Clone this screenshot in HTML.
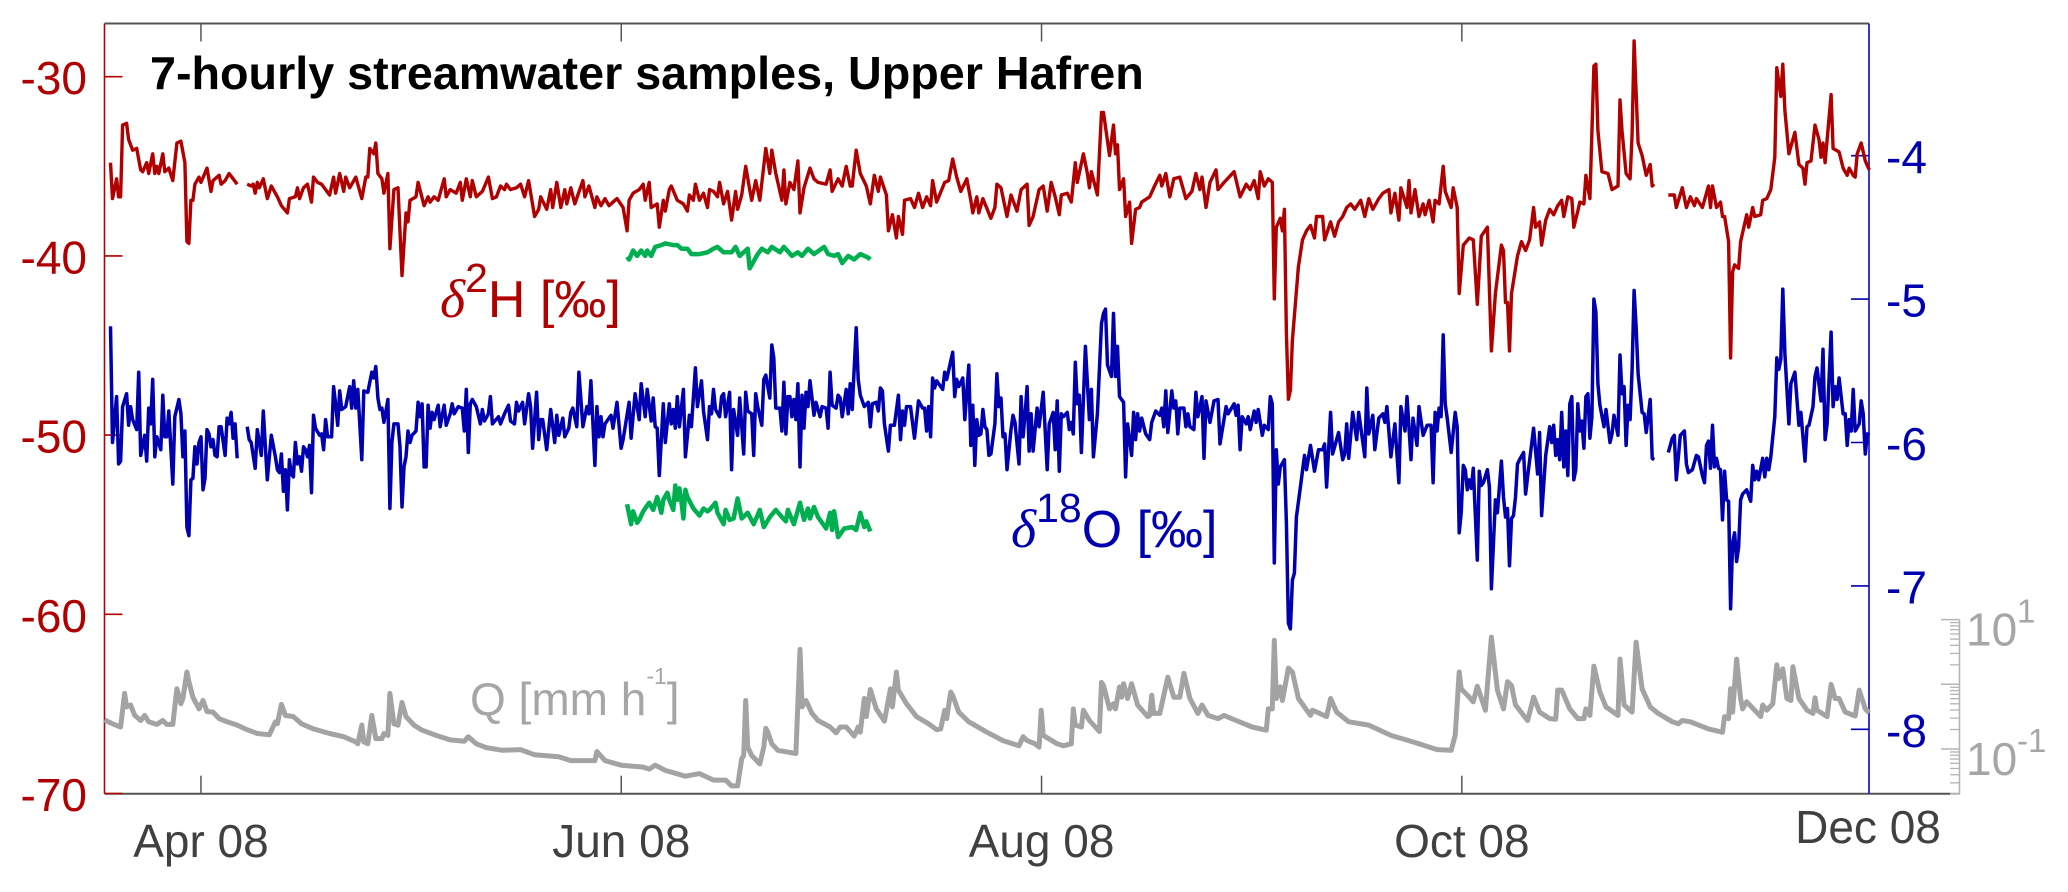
<!DOCTYPE html>
<html lang="en">
<head>
<meta charset="utf-8">
<title>7-hourly streamwater samples, Upper Hafren</title>
<style>
html,body{margin:0;padding:0;background:#fff;}
svg{display:block;font-family:"Liberation Sans",Arial,sans-serif;}
</style>
</head>
<body>
<svg id="chart" xmlns="http://www.w3.org/2000/svg" width="2068" height="892" viewBox="0 0 2068 892">
  <rect x="0" y="0" width="2068" height="892" fill="#ffffff"/>
  <g id="axes"></g>
  <g id="marks"></g>
  <text x="150" y="89" font-size="46.7" font-weight="bold" fill="#000">7-hourly streamwater samples, Upper Hafren</text>
  <text x="440" y="317" font-size="52" fill="#b00000"><tspan font-family="'Liberation Serif',serif" font-style="italic" font-size="54">δ</tspan><tspan font-size="41" dy="-25">2</tspan><tspan dy="25">H [‰]</tspan></text>
  <text x="1011" y="547" font-size="52" fill="#0000b0"><tspan font-family="'Liberation Serif',serif" font-style="italic" font-size="54">δ</tspan><tspan font-size="41" dy="-25">18</tspan><tspan dy="25">O [‰]</tspan></text>
  <text x="470" y="715" font-size="46" fill="#a6a6a6">Q [mm h<tspan font-size="23" dy="-31">-1</tspan><tspan dy="31">]</tspan></text>
</svg>
<script>
// Sample index = number of 7-hourly samples since the start of the plotted window.
const d2hSpring = [[3,-34.8],[4,-36.8],[6,-35.7],[7,-36.7],[8,-36.7],[9,-32.7],[11,-32.6],[12,-33.5],[14,-34.1],[16,-34],[18,-35.2],[19,-35.3],[21,-34.8],[22,-35.4],[24,-34.3],[25,-35.4],[26,-35],[27,-35.4],[29,-34.3],[30,-35.3],[32,-35.1],[34,-35.8],[36,-33.7],[38,-33.6],[40,-34.8],[41,-39.2],[42,-39.3],[43,-36.9],[44,-36.9],[45,-36],[47,-35.6],[48,-35.9],[51,-35.1],[53,-36.4],[54,-35.8],[57,-35.5],[58,-36],[60,-35.8],[62,-35.4],[64,-35.7],[66,-36]];
const d2hMain = [[71,-36],[73,-36.1],[74,-36],[75,-36.5],[76,-35.9],[77,-36.2],[79,-35.7],[81,-36.8],[83,-36.1],[86,-36.7],[88,-37.2],[91,-37.6],[92,-36.8],[95,-36.7],[96,-36.2],[97,-36.8],[99,-36.2],[101,-36],[103,-37],[104,-35.6],[106,-35.9],[108,-36],[110,-36.3],[112,-36.6],[114,-35.6],[115,-36.5],[117,-35.4],[119,-36.4],[120,-35.6],[122,-36.2],[125,-35.6],[128,-36.8],[130,-35.6],[131,-35.6],[132,-34],[134,-34.3],[135,-33.7],[136,-35.4],[138,-35.7],[139,-36.5],[141,-35.4],[142,-39.6],[144,-36.3],[146,-36.2],[148,-41.1],[150,-37.6],[151,-38.1],[152,-36.9],[155,-36.7],[156,-35.9],[159,-37.2],[161,-36.7],[162,-37],[164,-36.7],[166,-36.9],[169,-35.7],[170,-36.7],[172,-36.3],[175,-36.5],[177,-35.9],[178,-36.9],[180,-35.7],[182,-36.7],[183,-35.8],[185,-36.7],[188,-36.4],[191,-35.6],[193,-36.8],[195,-36.7],[197,-36.1],[199,-36.3],[200,-36],[202,-36.3],[205,-36.2],[207,-36],[209,-36.7],[211,-35.8],[214,-37.8],[216,-37.4],[217,-36.7],[220,-37.4],[222,-36.3],[223,-37.3],[225,-35.9],[227,-37.3],[229,-36.3],[230,-37.1],[232,-36.2],[234,-37.1],[238,-35.8],[239,-36.7],[241,-36.1],[244,-37.3],[245,-36.7],[247,-37.2],[249,-36.8],[251,-37.2],[254,-36.9],[255,-36.8],[258,-37.3],[260,-38.6],[261,-36.9],[263,-36.5],[266,-36.3],[268,-36],[269,-36.9],[271,-35.9],[272,-37.3],[275,-37.1],[276,-38.4],[278,-36.9],[279,-37.5],[281,-36.3],[282,-36.1],[285,-36.9],[288,-37.1],[290,-37.5],[291,-36.6],[293,-36.9],[294,-36],[296,-36.9],[298,-36.5],[300,-37.3],[301,-36.3],[303,-36.4],[305,-36.7],[306,-35.9],[308,-37.1],[310,-36.4],[312,-38],[314,-36.4],[315,-37.4],[317,-36.6],[319,-35],[321,-36.3],[322,-36.9],[324,-35.8],[326,-36.9],[329,-34],[331,-35.4],[332,-34.1],[334,-35.4],[337,-36.9],[338,-35.2],[339,-37.1],[341,-35.9],[343,-36.3],[345,-34.7],[346,-37.6],[348,-36.2],[351,-35.1],[353,-35.7],[355,-35.9],[359,-36],[361,-35.2],[362,-36.4],[365,-35.7],[367,-36.1],[369,-35],[371,-36.1],[372,-36.1],[374,-34.1],[376,-35.4],[379,-36.1],[381,-37.1],[383,-35.5],[385,-36.4],[386,-35.6],[389,-36.6],[390,-38.6],[392,-37.7],[394,-39],[395,-37.8],[397,-38.8],[398,-36.9],[401,-36.8],[403,-37.3],[405,-36.5],[407,-37.3],[409,-36.7],[411,-37.2],[412,-35.8],[414,-37],[418,-35.9],[420,-35.8],[422,-34.6],[424,-35.6],[426,-36.4],[429,-35.7],[431,-36.9],[432,-37.6],[434,-36.7],[435,-37.6],[437,-36.8],[441,-37.9],[443,-37.3],[444,-36],[446,-36.2],[449,-37.8],[451,-36.6],[454,-37.5],[456,-36.3],[459,-36],[460,-38.3],[462,-37.8],[465,-36.3],[467,-36.1],[469,-37.5],[471,-35.9],[473,-36.7],[475,-37.7],[476,-36.6],[479,-36.5],[481,-37],[483,-34.8],[484,-35.9],[487,-34.3],[489,-35.4],[490,-36.2],[491,-35.3],[494,-36.6],[496,-32],[497,-32],[500,-34.4],[502,-32.7],[503,-34.3],[504,-33.8],[505,-36.3],[507,-35.7],[508,-37.8],[510,-37],[511,-39.3],[513,-37.4],[515,-37.3],[516,-37],[520,-36.7],[522,-36.2],[525,-35.5],[526,-36.1],[528,-35.4],[530,-36.7],[532,-35.7],[535,-35.6],[538,-36.8],[541,-36.4],[543,-35.4],[545,-36.3],[546,-35.6],[548,-37.3],[550,-35.9],[553,-35.2],[554,-36.3],[557,-35.9],[562,-35.3],[565,-36.7],[568,-36],[570,-36.3],[572,-35.8],[574,-36.8],[575,-35.3],[577,-36.1],[579,-35.7],[581,-35.9],[582,-42.4],[583,-38.4],[585,-37.9],[586,-38.6],[587,-37.4],[588,-44.3],[589,-48],[590,-47.5],[591,-44.7],[594,-40.6],[596,-39.1],[598,-38.6],[600,-38.3],[602,-39],[603,-37.8],[606,-37.8],[607,-39.1],[610,-38.1],[612,-38.9],[614,-38.1],[616,-37.8],[618,-37.3],[620,-37.1],[622,-37.4],[625,-36.9],[627,-37.8],[629,-36.8],[631,-37.4],[634,-36.8],[636,-36.5],[639,-36.3],[640,-37.6],[642,-36.5],[644,-38],[645,-36.2],[648,-37.3],[649,-35.8],[650,-37.6],[652,-36.3],[654,-37.8],[656,-37.1],[657,-37.7],[659,-36.9],[661,-38.1],[662,-36.9],[664,-37.1],[666,-35],[667,-36.4],[670,-37.3],[671,-36.2],[673,-37.3],[674,-42.1],[676,-39.4],[679,-39],[681,-39.1],[683,-42.7],[685,-38.9],[688,-38.4],[690,-45.3],[692,-42.1],[695,-39.4],[696,-39.7],[697,-42.6],[698,-42.6],[699,-45.3],[700,-42.1],[703,-40],[705,-39.2],[707,-39.7],[709,-39.1],[711,-37.3],[712,-38.4],[714,-38.1],[715,-39.4],[717,-38],[719,-37.4],[721,-37.7],[723,-37.2],[725,-36.9],[726,-37.8],[728,-36.7],[730,-36.8],[731,-38.4],[733,-37.5],[734,-37],[736,-37.1],[737,-35.5],[739,-36.8],[741,-29.4],[742,-29.3],[743,-33],[745,-35.3],[748,-35.4],[750,-36.3],[753,-36.1],[754,-31.3],[755,-33],[757,-35.4],[759,-35.7],[760,-33.2],[761,-28],[763,-33.7],[765,-34.4],[767,-35.5],[769,-34.9],[770,-36.1],[771,-36]];
const d2hLate = [[778,-36.6],[781,-36.6],[782,-37.3],[785,-36.2],[787,-37.3],[789,-36.7],[791,-37.2],[792,-36.8],[795,-37.3],[798,-36.1],[799,-37.3],[800,-36.1],[802,-37.3],[804,-37],[805,-37.8],[806,-37.8],[808,-39.2],[809,-45.7],[810,-40.9],[811,-40.5],[813,-40.7],[814,-39.2],[817,-37.7],[818,-38.4],[820,-37.3],[821,-37.8],[824,-37.7],[825,-36.9],[827,-36.8],[829,-36.3],[831,-34.5],[832,-29.5],[834,-31.1],[835,-29.3],[836,-31.9],[838,-34.3],[841,-33.1],[843,-34.9],[845,-35.1],[846,-36],[847,-34.8],[849,-34.7],[851,-32.7],[853,-33.5],[854,-34.5],[855,-33.7],[856,-34.8],[859,-31],[860,-34],[863,-34.2],[865,-35.1],[867,-35.5],[868,-35.1],[870,-35.5],[871,-35.6],[872,-34.3],[874,-33.7],[876,-34.7],[878,-35.2]];

const d18oSpring = [[3,-5.19],[4,-6],[6,-5.68],[7,-6.15],[8,-6.13],[9,-5.75],[11,-5.66],[12,-5.88],[13,-5.75],[14,-5.84],[16,-5.91],[17,-5.51],[18,-6.09],[20,-5.95],[21,-6.13],[22,-5.76],[23,-5.87],[24,-5.56],[25,-6.1],[26,-5.96],[28,-6.05],[29,-5.67],[30,-5.96],[31,-5.96],[32,-5.78],[34,-6.29],[35,-5.82],[37,-5.7],[38,-5.8],[39,-6.1],[40,-5.92],[41,-6.59],[42,-6.65],[43,-6.26],[44,-6.25],[45,-6.03],[46,-6.15],[47,-6],[48,-5.96],[49,-6.33],[50,-6.25],[51,-5.91],[52,-5.94],[53,-6.03],[54,-5.98],[55,-6.09],[56,-6.1],[57,-5.89],[58,-5.89],[60,-6.09],[61,-5.83],[62,-5.87],[63,-5.79],[64,-5.97],[65,-5.87],[66,-6.11]];
const d18oMain = [[71,-5.89],[72,-5.98],[73,-6],[75,-6.18],[76,-5.91],[78,-6.09],[79,-5.78],[81,-6.26],[83,-5.95],[85,-6.1],[86,-6.19],[87,-6.21],[88,-6.08],[89,-6.34],[90,-6.19],[91,-6.47],[92,-6.12],[93,-6.22],[94,-6.24],[95,-6],[96,-6.15],[97,-6.1],[98,-6.2],[99,-6.03],[100,-6.05],[101,-6.1],[102,-6.02],[103,-6.35],[104,-5.81],[105,-5.9],[107,-5.95],[108,-5.94],[109,-6.05],[110,-5.84],[111,-5.96],[113,-5.96],[114,-5.61],[115,-5.73],[116,-5.88],[117,-5.64],[118,-5.77],[120,-5.75],[122,-5.61],[123,-5.76],[124,-5.57],[125,-5.76],[126,-5.63],[128,-6.12],[129,-5.64],[131,-5.65],[133,-5.51],[134,-5.55],[135,-5.47],[136,-5.69],[137,-5.77],[138,-5.76],[139,-5.86],[140,-5.78],[141,-5.7],[142,-6.46],[143,-6],[144,-5.87],[146,-5.87],[147,-6.03],[148,-6.45],[149,-6.17],[150,-6.1],[151,-5.92],[152,-6],[153,-5.95],[155,-5.92],[156,-5.72],[157,-5.82],[158,-5.73],[159,-6.17],[160,-6.17],[161,-5.74],[162,-5.9],[163,-5.79],[164,-5.84],[166,-5.74],[167,-5.89],[168,-5.81],[169,-5.74],[170,-5.88],[172,-5.8],[173,-5.73],[174,-5.8],[176,-5.75],[178,-5.76],[179,-5.92],[180,-5.63],[181,-6.07],[182,-5.73],[183,-5.7],[185,-5.75],[187,-5.87],[188,-5.77],[189,-5.85],[191,-5.8],[192,-5.68],[193,-5.87],[196,-5.82],[197,-5.87],[199,-5.8],[201,-5.74],[202,-5.85],[204,-5.87],[205,-5.72],[206,-5.78],[208,-5.72],[209,-5.87],[211,-5.66],[212,-5.75],[213,-6.04],[215,-5.65],[216,-5.98],[217,-5.84],[218,-5.84],[220,-6.05],[222,-5.77],[224,-6],[225,-5.81],[226,-5.95],[228,-5.83],[229,-5.96],[231,-5.9],[232,-5.79],[233,-5.76],[235,-5.89],[236,-5.51],[238,-5.89],[240,-5.75],[241,-5.8],[242,-5.57],[244,-6.16],[245,-5.75],[246,-5.96],[247,-5.82],[248,-5.96],[249,-5.87],[252,-5.81],[253,-5.9],[255,-5.72],[257,-6.04],[258,-5.98],[261,-5.72],[262,-5.97],[264,-5.66],[266,-5.84],[267,-5.59],[269,-5.82],[270,-5.63],[272,-5.85],[273,-5.69],[274,-5.89],[275,-5.9],[276,-6.23],[278,-5.73],[279,-6],[281,-5.73],[282,-5.87],[283,-5.77],[284,-5.9],[285,-5.68],[286,-5.89],[288,-5.63],[289,-6.1],[291,-5.81],[292,-5.89],[294,-5.48],[295,-5.75],[297,-5.57],[298,-5.78],[300,-5.98],[301,-5.75],[302,-5.8],[303,-5.63],[304,-5.77],[306,-5.82],[307,-5.68],[308,-5.66],[309,-5.82],[311,-5.65],[312,-6.19],[313,-5.77],[315,-5.95],[316,-5.69],[318,-6.08],[319,-5.65],[320,-5.78],[322,-5.8],[323,-6.09],[324,-5.66],[325,-5.75],[327,-5.88],[328,-5.56],[329,-5.53],[331,-5.69],[332,-5.32],[333,-5.41],[334,-5.76],[336,-5.76],[337,-5.92],[338,-5.58],[339,-5.94],[340,-5.68],[341,-5.68],[342,-5.82],[343,-5.7],[344,-5.84],[345,-5.59],[346,-6.17],[347,-5.67],[348,-5.9],[349,-5.65],[350,-5.75],[351,-5.57],[353,-5.81],[354,-5.72],[356,-5.82],[357,-5.75],[359,-5.76],[360,-5.9],[361,-5.51],[362,-5.74],[364,-5.76],[365,-5.67],[366,-5.69],[367,-5.82],[369,-5.63],[370,-5.8],[371,-5.59],[372,-5.77],[374,-5.2],[375,-5.56],[376,-5.67],[378,-5.75],[380,-5.72],[381,-5.89],[382,-5.73],[384,-5.72],[385,-5.78],[386,-5.62],[387,-5.64],[388,-5.87],[390,-6.06],[391,-5.88],[393,-5.88],[395,-5.67],[396,-5.98],[397,-5.78],[398,-5.88],[399,-5.75],[401,-5.75],[403,-5.97],[405,-5.71],[407,-5.76],[408,-5.76],[409,-5.92],[410,-5.75],[411,-5.96],[412,-5.55],[413,-5.62],[414,-5.57],[417,-5.63],[418,-5.51],[419,-5.56],[422,-5.37],[423,-5.68],[424,-5.56],[425,-5.61],[427,-5.55],[428,-5.84],[430,-5.46],[431,-6.02],[432,-5.74],[433,-6.16],[434,-5.84],[435,-5.95],[436,-5.94],[437,-5.77],[438,-5.89],[439,-5.91],[440,-6.09],[441,-6.08],[443,-5.87],[444,-5.52],[445,-5.75],[446,-5.69],[447,-5.96],[448,-5.94],[449,-6.19],[451,-5.91],[452,-5.81],[453,-5.86],[455,-6.15],[456,-5.68],[457,-5.96],[458,-5.8],[459,-5.61],[460,-6.06],[461,-5.8],[462,-6.06],[464,-5.76],[465,-5.89],[467,-5.65],[469,-6.19],[470,-5.87],[472,-5.79],[473,-6.05],[474,-5.71],[475,-6.2],[476,-5.8],[477,-5.82],[479,-5.79],[480,-5.91],[481,-5.86],[482,-5.94],[483,-5.44],[484,-5.73],[485,-5.67],[486,-6.07],[488,-5.33],[490,-5.84],[491,-5.63],[492,-6.1],[494,-5.8],[496,-5.17],[497,-5.1],[498,-5.07],[499,-5.46],[501,-5.54],[502,-5.1],[503,-5.54],[504,-5.33],[505,-5.68],[507,-5.72],[508,-6.24],[509,-5.87],[510,-5.98],[511,-6.09],[512,-5.79],[513,-5.98],[514,-5.8],[515,-5.92],[516,-5.83],[518,-5.94],[520,-5.98],[521,-5.86],[523,-5.78],[525,-5.81],[526,-5.76],[527,-5.89],[528,-5.64],[529,-5.93],[531,-5.64],[532,-5.76],[533,-5.71],[534,-5.94],[535,-5.76],[537,-5.76],[538,-5.89],[539,-5.8],[540,-5.89],[542,-5.91],[543,-5.65],[544,-5.82],[546,-5.68],[547,-6.11],[548,-5.71],[550,-5.86],[552,-5.71],[554,-5.7],[555,-6.01],[558,-5.75],[559,-5.8],[562,-5.73],[563,-5.81],[564,-5.74],[565,-6.05],[566,-5.82],[568,-5.87],[569,-5.82],[570,-5.91],[572,-5.78],[573,-5.86],[574,-5.77],[576,-5.95],[577,-5.88],[579,-5.91],[580,-5.68],[581,-5.73],[582,-6.84],[583,-6.05],[584,-6.29],[585,-6.17],[587,-6.12],[588,-6.56],[589,-7.26],[590,-7.3],[591,-6.96],[592,-6.91],[593,-6.52],[595,-6.31],[597,-6.09],[598,-6.19],[600,-6.02],[602,-6.2],[604,-6.05],[606,-6.05],[607,-6.01],[608,-6.31],[610,-5.79],[611,-6.08],[614,-5.93],[616,-6.12],[617,-6.08],[618,-5.87],[619,-6.11],[621,-5.79],[623,-5.98],[624,-5.79],[627,-6.1],[628,-5.62],[629,-5.94],[631,-5.81],[632,-6.05],[634,-5.83],[636,-5.8],[637,-5.86],[638,-5.75],[640,-6.1],[642,-5.87],[644,-6.28],[645,-5.75],[647,-5.92],[648,-5.68],[650,-6.12],[651,-5.83],[653,-6.02],[654,-5.75],[656,-5.95],[658,-5.88],[660,-5.88],[661,-6.28],[662,-5.79],[663,-5.92],[664,-5.76],[665,-5.82],[666,-5.25],[667,-5.73],[668,-5.83],[670,-6.07],[672,-5.79],[673,-5.89],[674,-6.63],[675,-6.49],[676,-6.16],[677,-6.19],[678,-6.33],[679,-6.26],[680,-6.32],[681,-6.18],[683,-6.82],[684,-6.2],[685,-6.3],[686,-6.28],[688,-6.19],[689,-6.31],[690,-7.02],[692,-6.4],[693,-6.49],[695,-6.13],[696,-6.38],[697,-6.52],[698,-6.46],[699,-6.86],[700,-6.53],[701,-6.51],[702,-6.38],[703,-6.15],[704,-6.12],[706,-6.07],[707,-6.36],[708,-6.24],[711,-5.9],[713,-6.22],[714,-5.93],[715,-6.51],[717,-6.09],[719,-5.89],[720,-6],[721,-5.88],[722,-6.09],[723,-5.98],[724,-6.12],[725,-5.79],[726,-6.17],[727,-5.92],[728,-6.23],[729,-5.73],[730,-5.68],[731,-6.26],[732,-6.19],[733,-5.73],[734,-5.92],[735,-5.85],[736,-6.04],[737,-5.68],[738,-5.66],[739,-5.97],[740,-5.82],[741,-5],[742,-5.09],[743,-5.59],[744,-5.74],[746,-5.89],[747,-5.77],[749,-6],[750,-5.94],[751,-5.81],[753,-5.95],[754,-5.39],[755,-5.66],[756,-5.61],[757,-6.02],[758,-5.74],[759,-5.84],[760,-5.49],[761,-4.94],[762,-5.19],[763,-5.52],[765,-5.79],[766,-5.8],[767,-5.93],[769,-5.7],[770,-6.11],[771,-6.12]];
const d18oLate = [[778,-6.07],[780,-5.97],[781,-5.95],[782,-6.26],[784,-5.95],[786,-5.92],[787,-6.15],[788,-6.21],[790,-6.19],[792,-6.09],[793,-6.1],[795,-6.23],[796,-6.28],[797,-6.02],[798,-5.99],[799,-6.18],[800,-5.88],[801,-6.17],[802,-6.11],[803,-6.18],[804,-6.19],[805,-6.54],[806,-6.2],[807,-6.4],[808,-6.41],[809,-7.16],[810,-6.7],[811,-6.63],[812,-6.83],[813,-6.73],[814,-6.4],[815,-6.36],[817,-6.33],[819,-6.41],[820,-6.16],[821,-6.26],[822,-6.2],[823,-6.26],[825,-6.11],[826,-6.24],[827,-6.11],[828,-6.19],[829,-6.1],[831,-5.82],[832,-5.41],[833,-5.49],[834,-5.42],[835,-4.93],[836,-5.38],[838,-5.87],[839,-5.59],[841,-5.51],[843,-5.88],[844,-5.79],[846,-6.13],[847,-5.89],[848,-5.88],[850,-5.75],[851,-5.54],[852,-5.48],[854,-5.71],[855,-5.35],[856,-5.98],[857,-5.87],[859,-5.23],[860,-5.75],[861,-5.61],[862,-5.7],[863,-5.55],[865,-5.8],[866,-5.8],[867,-6.02],[868,-5.84],[869,-5.92],[870,-5.63],[871,-5.92],[873,-5.87],[874,-5.71],[875,-5.8],[876,-6.08],[877,-5.94],[878,-5.95]];

const dischargeLog10 = [[0,-.55],[4,-.61],[8,-.66],[10,-.14],[11,-.35],[13,-.32],[15,-.48],[18,-.56],[20,-.48],[22,-.58],[26,-.62],[29,-.56],[31,-.62],[34,-.62],[36,-.07],[38,-.3],[39,-.22],[41,.19],[42,.04],[44,-.2],[47,-.38],[49,-.25],[51,-.42],[54,-.43],[57,-.53],[61,-.58],[66,-.63],[70,-.69],[76,-.76],[82,-.78],[85,-.58],[86,-.61],[88,-.31],[90,-.48],[94,-.5],[98,-.61],[104,-.69],[112,-.76],[119,-.81],[125,-.89],[126,-.92],[128,-.63],[129,-.89],[131,-.92],[133,-.48],[135,-.84],[138,-.84],[139,-.76],[141,-.79],[142,-.14],[144,-.61],[146,-.63],[148,-.28],[150,-.5],[154,-.63],[158,-.71],[165,-.79],[172,-.86],[179,-.88],[181,-.81],[185,-.92],[190,-.98],[198,-1.02],[207,-1.01],[214,-1.09],[226,-1.12],[232,-1.18],[244,-1.18],[245,-1.04],[249,-1.18],[257,-1.25],[268,-1.28],[271,-1.31],[274,-1.25],[279,-1.33],[289,-1.42],[296,-1.38],[303,-1.48],[309,-1.48],[312,-1.57],[315,-1.57],[317,-1.15],[318,-1.1],[319,-.25],[320,-.97],[322,-1.1],[326,-1.23],[328,-.97],[329,-.68],[330,-.74],[332,-.92],[335,-1.02],[344,-1.07],[346,.54],[347,-.35],[349,-.25],[352,-.45],[355,-.56],[361,-.66],[364,-.75],[366,-.66],[369,-.66],[373,-.8],[375,-.66],[376,-.74],[378,-.22],[379,-.5],[381,-.08],[384,-.38],[388,-.57],[391,-.07],[392,-.35],[394,.19],[395,-.09],[399,-.3],[404,-.5],[410,-.61],[414,-.7],[416,-.69],[418,-.4],[419,-.53],[421,-.12],[422,-.17],[425,-.43],[430,-.58],[439,-.74],[447,-.87],[455,-.95],[457,-.81],[459,-.87],[463,-.92],[465,-.97],[466,-.4],[467,-.79],[474,-.92],[477,-.95],[481,-.92],[482,-.38],[483,-.63],[486,-.66],[487,-.4],[490,-.56],[495,-.73],[496,.03],[497,-.02],[500,-.38],[502,-.3],[503,-.38],[505,-.04],[506,-.2],[507,.01],[509,-.22],[511,.01],[514,-.32],[519,-.5],[520,-.48],[521,-.17],[522,-.45],[525,-.45],[529,.11],[532,-.2],[535,-.2],[537,.17],[540,-.22],[544,-.45],[546,-.32],[549,-.48],[554,-.53],[557,-.48],[563,-.56],[571,-.66],[578,-.71],[579,-.38],[581,-.38],[582,.68],[583,-.22],[585,-.04],[586,-.25],[589,.25],[591,.19],[594,-.22],[600,-.48],[601,-.4],[608,-.5],[610,-.22],[613,-.43],[619,-.58],[629,-.63],[640,-.79],[651,-.89],[663,-1.01],[670,-1.02],[672,-.79],[674,.19],[675,-.07],[679,-.2],[681,-.27],[683,-.03],[687,-.4],[690,.73],[693,-.09],[696,-.38],[698,.04],[700,-.02],[702,-.32],[708,-.56],[711,-.2],[714,-.43],[719,-.53],[722,-.54],[723,-.09],[725,-.09],[729,-.38],[733,-.53],[736,-.53],[737,-.38],[739,-.48],[741,.28],[744,-.12],[747,-.35],[753,-.48],[754,.39],[756,-.32],[760,-.43],[762,.65],[765,-.07],[769,-.35],[773,-.45],[780,-.58],[783,-.61],[785,-.56],[789,-.58],[798,-.69],[805,-.74],[806,-.5],[808,-.53],[809,-.07],[810,-.43],[812,.39],[814,-.22],[815,-.38],[817,-.27],[821,-.4],[824,-.5],[825,-.32],[827,-.4],[830,-.3],[832,.3],[833,.09],[835,.24],[837,-.22],[839,-.25],[840,.27],[843,-.22],[847,-.4],[850,-.45],[851,-.21],[852,-.4],[857,-.5],[859,0],[861,-.22],[863,-.22],[866,-.43],[871,-.49],[873,-.09],[876,-.38],[878,-.44]];

const d2hInstrument = [[260,-40.05],[261,-40.2],[263,-39.7],[265,-40],[267,-39.7],[269,-40],[270,-39.7],[272,-40],[274,-39.5],[277,-39.4],[279,-39.3],[283,-39.4],[285,-39.4],[287,-39.6],[290,-39.6],[292,-39.9],[296,-39.9],[300,-39.8],[303,-39.6],[305,-39.5],[308,-39.8],[312,-39.8],[314,-39.5],[316,-40],[320,-39.6],[321,-40.7],[323,-40.3],[325,-39.9],[327,-39.6],[330,-39.8],[332,-39.5],[336,-39.8],[338,-39.5],[342,-40],[345,-39.8],[347,-40],[350,-39.6],[353,-39.9],[358,-39.5],[360,-39.9],[363,-40],[365,-39.9],[367,-40.4],[370,-40],[373,-40.2],[376,-39.9],[380,-40.1],[381,-40.2]];
const d18oInstrument = [[260,-6.43],[262,-6.57],[263,-6.48],[265,-6.56],[266,-6.54],[268,-6.48],[271,-6.42],[273,-6.47],[275,-6.38],[277,-6.49],[278,-6.4],[280,-6.35],[281,-6.4],[283,-6.47],[284,-6.3],[285,-6.4],[286,-6.32],[287,-6.41],[288,-6.53],[289,-6.33],[290,-6.38],[293,-6.46],[296,-6.51],[298,-6.46],[300,-6.48],[301,-6.47],[304,-6.42],[305,-6.49],[308,-6.57],[309,-6.47],[311,-6.54],[313,-6.53],[315,-6.39],[317,-6.53],[320,-6.49],[323,-6.57],[326,-6.47],[328,-6.59],[331,-6.52],[334,-6.47],[337,-6.52],[339,-6.55],[340,-6.47],[343,-6.57],[346,-6.42],[348,-6.54],[350,-6.46],[351,-6.53],[353,-6.45],[355,-6.52],[359,-6.6],[361,-6.49],[362,-6.61],[363,-6.48],[365,-6.66],[368,-6.6],[372,-6.59],[374,-6.61],[376,-6.49],[378,-6.59],[379,-6.55],[381,-6.62]];

const d2hTicks = [-30, -40, -50, -60, -70];
const d18oTicks = [-4, -5, -6, -7, -8];
const monthTickDays = [14, 75, 136, 197];
const monthTickLabels = ["Apr 08", "Jun 08", "Aug 08", "Oct 08"];
const endMonthLabel = "Dec 08";
const qMajorDecades = [1, 0, -1];
const qMinorDecades = [0, -1, -2];
const qMinorMultiples = [2, 3, 4, 5, 6, 7, 8, 9];
const qLabelExponents = ["1", "-1"];
const qLabelDecades = [1, -1];

const SVGNS = "http://www.w3.org/2000/svg";
const axes = document.getElementById("axes");
const marks = document.getElementById("marks");
const LEFT = 104.5, RIGHT = 1869, TOP = 23.5, BOTTOM = 793.7;
const RED = "#b00000", BLUE = "#0000b0", GRAY = "#a6a6a6", GREEN = "#00b050", DARK = "#555555";

function xOfSample(n) { return LEFT + n * 2.01; }
function xOfDay(d) { return LEFT + d * 6.89; }
function yD2H(v) { return 76.7 + (-30 - v) * 17.92; }
function yD18O(v) { return 155.7 + (-4 - v) * 143.4; }
function yQ(logQ) { return 684.3 - logQ * 64.7; }

function line(parent, x1, y1, x2, y2, color, width) {
  const el = document.createElementNS(SVGNS, "line");
  el.setAttribute("x1", x1);
  el.setAttribute("y1", y1);
  el.setAttribute("x2", x2);
  el.setAttribute("y2", y2);
  el.setAttribute("stroke", color);
  el.setAttribute("stroke-width", width);
  parent.appendChild(el);
  return el;
}
function label(parent, x, y, str, color, size, anchor) {
  const el = document.createElementNS(SVGNS, "text");
  el.setAttribute("x", x);
  el.setAttribute("y", y);
  el.setAttribute("fill", color);
  el.setAttribute("font-size", size);
  el.setAttribute("text-anchor", anchor);
  el.textContent = str;
  parent.appendChild(el);
  return el;
}
function series(points, yFn, color, width) {
  const el = document.createElementNS(SVGNS, "path");
  let d = "";
  points.forEach(function (p, i) {
    d += (i ? "L" : "M") + xOfSample(p[0]).toFixed(1) + " " + yFn(p[1]).toFixed(1);
  });
  el.setAttribute("d", d);
  el.setAttribute("fill", "none");
  el.setAttribute("stroke", color);
  el.setAttribute("stroke-width", width);
  el.setAttribute("stroke-linejoin", "round");
  el.setAttribute("stroke-linecap", "butt");
  marks.appendChild(el);
  return el;
}

/* frame */
let el = line(axes, LEFT, TOP, RIGHT, TOP, DARK, 2);


el = line(axes, LEFT, BOTTOM, 1950, BOTTOM, DARK, 2);


el = line(axes, 1950, BOTTOM, 1960, BOTTOM, "#b0b0b0", 2);


el = line(axes, LEFT, TOP, LEFT, BOTTOM, RED, 1.6);


el = line(axes, RIGHT, TOP, RIGHT, BOTTOM, "#2222c4", 1.8);


el = line(axes, 1959.5, yQ(1), 1959.5, BOTTOM, "#b4b4b4", 1.6);



/* left axis */
d2hTicks.forEach(function (v) {
  let t = line(axes, LEFT, yD2H(v), LEFT + 18, yD2H(v), RED, 1.6);
  
  
  let l = label(axes, 87, yD2H(v) + 17.5, String(v), RED, 46, "end");
  
  
});

/* right axis */
d18oTicks.forEach(function (v) {
  let t = line(axes, RIGHT - 18, yD18O(v), RIGHT, yD18O(v), BLUE, 1.6);
  
  
  let l = label(axes, 1886, yD18O(v) + 17.5, String(v), BLUE, 46, "start");
  
  
});

/* time axis */
monthTickDays.forEach(function (d, i) {
  let a = line(axes, xOfDay(d), TOP, xOfDay(d), TOP + 18, DARK, 1.5);
  
  
  let b = line(axes, xOfDay(d), BOTTOM - 18, xOfDay(d), BOTTOM, DARK, 1.5);
  
  
  let l = label(axes, xOfDay(d), 857, monthTickLabels[i], "#404040", 46, "middle");
  
  
});
el = label(axes, 1868, 843, endMonthLabel, "#404040", 46, "middle");



/* discharge log axis */
qMajorDecades.forEach(function (d) {
  let t = line(axes, 1941, yQ(d), 1959.5, yQ(d), "#b4b4b4", 1.5);
  
  
});
qMinorDecades.forEach(function (d) {
  qMinorMultiples.forEach(function (m) {
    const lg = d + Math.log10(m);
    if (yQ(lg) > BOTTOM) return;
    let t = line(axes, 1950, yQ(lg), 1959.5, yQ(lg), "#b4b4b4", 1.3);
    
    
  });
});
qLabelDecades.forEach(function (d, i) {
  let base = label(axes, 1966, yQ(d) + 26, "10", "#a6a6a6", 46, "start");
  
  
  let sup = label(axes, 2017, yQ(d) + 3, qLabelExponents[i], "#a6a6a6", 33, "start");
  
  
});

/* series */
el = series(dischargeLog10, yQ, "#a3a3a3", 5);



el = series(d18oSpring, yD18O, BLUE, 3.5);


el = series(d18oMain, yD18O, BLUE, 3.5);


el = series(d18oLate, yD18O, BLUE, 3.5);



el = series(d2hSpring, yD2H, RED, 3.4);


el = series(d2hMain, yD2H, RED, 3.4);


el = series(d2hLate, yD2H, RED, 3.4);



el = series(d2hInstrument, yD2H, GREEN, 4.5);


el = series(d18oInstrument, yD18O, GREEN, 4.5);


</script>
</body>
</html>
